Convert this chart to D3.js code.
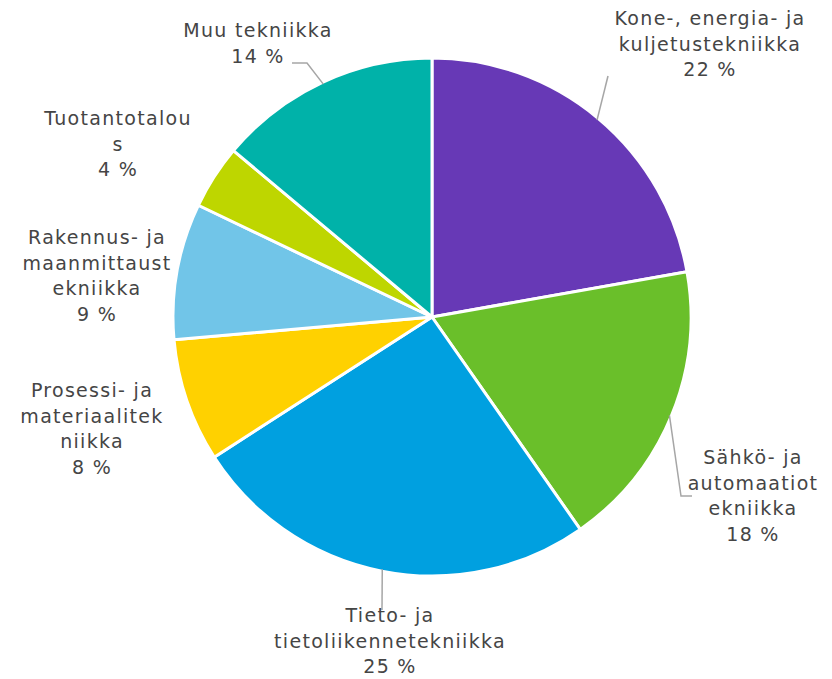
<!DOCTYPE html>
<html>
<head>
<meta charset="utf-8">
<script src="https://cdn.jsdelivr.net/npm/d3@7"></script>
<style>
  body { margin: 0; background: #fff; }
  svg { display: block; }
  text { font-family: "DejaVu Sans", Verdana, sans-serif; font-size: 19px; letter-spacing: 1.3px; fill: #454545; }
</style>
</head>
<body>
<div id="chart"></div>
<script>
////////////////////////////////////////////////////
// data: share of each field, clockwise from 12 o'clock
////////////////////////////////////////////////////
var categories = ["Kone-, energia- ja kuljetustekniikka", "Sähkö- ja automaatiotekniikka",
	"Tieto- ja tietoliikennetekniikka", "Prosessi- ja materiaalitekniikka",
	"Rakennus- ja maanmittaustekniikka", "Tuotantotalous", "Muu tekniikka"];
var values = [22.2, 18.1, 25.6, 7.7, 8.5, 4.0, 13.9];
var percentLabels = ["22 %", "18 %", "25 %", "8 %", "9 %", "4 %", "14 %"];
// label lines as wrapped in the original
var labelLines = [
	["Kone-, energia- ja", "kuljetustekniikka"],
	["Sähkö- ja", "automaatiot", "ekniikka"],
	["Tieto- ja", "tietoliikennetekniikka"],
	["Prosessi- ja", "materiaalitek", "niikka"],
	["Rakennus- ja", "maanmittaust", "ekniikka"],
	["Tuotantotalou", "s"],
	["Muu tekniikka"]
];
var colors = ["#6739b6", "#6abf2a", "#00a0e0", "#ffd100", "#71c5e8", "#bed600", "#00b2a9"];

////////////////////////////////////////////////////
// layout
////////////////////////////////////////////////////
var W = 832, H = 679;
var cx = 432, cy = 317, R = 259;
var lineH = 25.5;
// label block: center x, baseline of first line
var labelPos = [
	[710, 25], [753, 464], [390, 622], [92, 397], [97, 244], [118, 125], [258, 37]
];
// leader elbows (extra points after the arc point), null = no leader
var leaders = [
	[[608, 76]],
	[[681, 496], [692, 496]],
	[[382, 610]],
	null, null, null,
	[[307, 63], [292, 63]]
];

var svg = d3.select("#chart").append("svg")
	.attr("width", W)
	.attr("height", H);

var pie = d3.pie().sort(null).value(function(d){return d;});
var arcs = pie(values);
var arc = d3.arc().innerRadius(0).outerRadius(R);

var g = svg.append("g").attr("transform", "translate(" + cx + "," + cy + ")");

g.selectAll("path.slice")
	.data(arcs)
	.enter().append("path")
		.attr("class", "slice")
		.attr("d", arc)
		.attr("fill", function(d,i){return colors[i];})
		.attr("stroke", "#fff")
		.attr("stroke-width", 3)
		.attr("stroke-linejoin", "round");

// leader lines, from the arc midpoint on the rim
arcs.forEach(function(d, i) {
	if (!leaders[i]) return;
	var a = (d.startAngle + d.endAngle) / 2;
	var p0 = [cx + Math.sin(a) * (R - 2), cy - Math.cos(a) * (R - 2)];
	var pts = [p0].concat(leaders[i]);
	svg.append("path")
		.attr("d", d3.line()(pts))
		.attr("fill", "none")
		.attr("stroke", "#a6a6a6")
		.attr("stroke-width", 1.5);
});

// labels
var labels = svg.selectAll("text.lbl")
	.data(categories)
	.enter().append("text")
		.attr("class", "lbl")
		.attr("text-anchor", "middle")
		.attr("x", function(d,i){return labelPos[i][0];})
		.attr("y", function(d,i){return labelPos[i][1];});

labels.each(function(d, i) {
	var t = d3.select(this);
	var lines = labelLines[i].concat([percentLabels[i]]);
	lines.forEach(function(s, k) {
		t.append("tspan")
			.attr("x", labelPos[i][0])
			.attr("dy", k === 0 ? 0 : lineH)
			.text(s);
	});
});
</script>
</body>
</html>
